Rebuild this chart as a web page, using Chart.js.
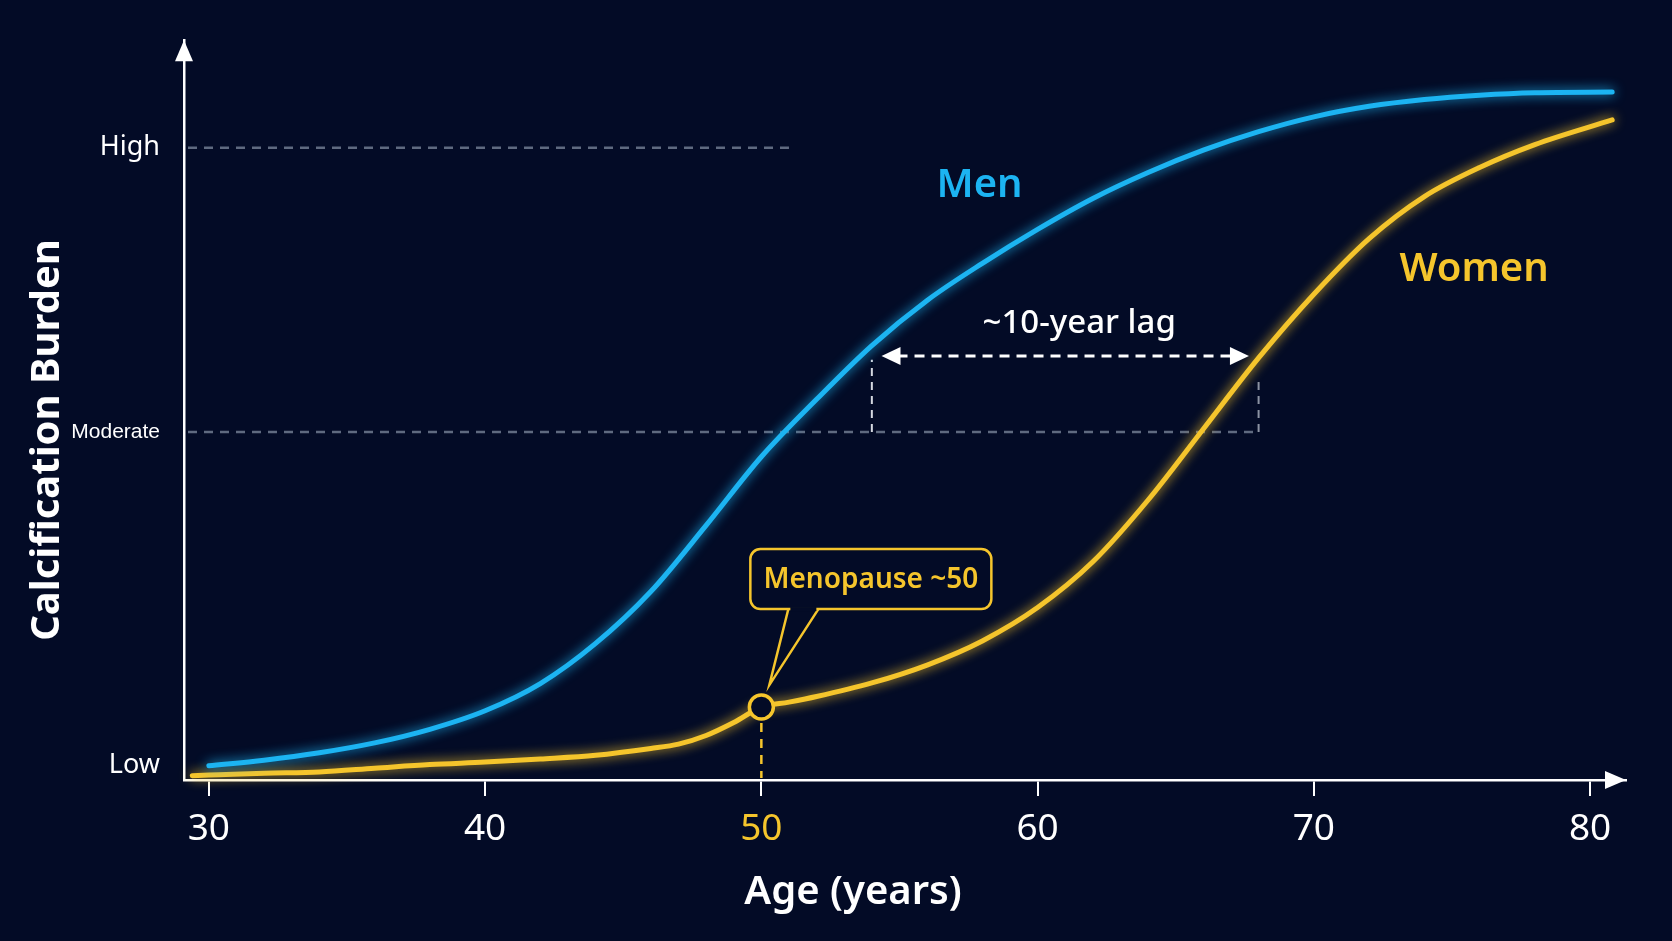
<!DOCTYPE html>
<html>
<head>
<meta charset="utf-8">
<script src="https://cdn.jsdelivr.net/npm/chart.js@4.4.1/dist/chart.umd.min.js"></script>
<style>
html, body { margin: 0; padding: 0; background: #030b26; }
#wrap { width: 1672px; height: 941px; position: relative; }
</style>
</head>
<body>
<div id="wrap"><canvas id="chart"></canvas></div>
<script>
'use strict';

//Data (burden: Low = 0, High = 100)
var menAges    = [30, 32, 34, 36, 38, 40, 42, 44, 46, 48, 50, 52, 54, 56, 58, 60, 62, 64, 66, 68, 70, 72, 74, 76, 78, 80.8];
var menBurden  = [0, 0.9, 2.1, 3.7, 5.9, 8.9, 13.3, 19.8, 28.2, 38.9, 50.0, 59.3, 68.0, 75.3, 81.3, 86.8, 91.8, 96.0, 99.6, 102.6, 105.0, 106.7, 107.8, 108.5, 108.9, 109.0];

var womenAges   = [29.4, 30, 32, 34, 36, 38, 40, 42, 44, 46, 47, 48, 49, 50, 51, 52, 54, 56, 58, 60, 62, 64, 66, 68, 70, 72, 74, 76, 78, 80.8];
var womenBurden = [-1.6, -1.5, -1.2, -1.0, -0.4, 0.2, 0.6, 1.1, 1.7, 2.8, 3.5, 4.9, 7.0, 9.5, 10.3, 11.2, 13.4, 16.3, 20.2, 25.6, 33.0, 43.0, 54.5, 66.0, 76.3, 85.3, 92.1, 96.8, 100.5, 104.5];

var menopauseAge    = [50];
var menopauseBurden = [9.5];

//Axes
var xTicks = [30, 40, 50, 60, 70, 80];
var yTicks = [0, 54, 100];
var yTickLabels = ['Low', 'Moderate', 'High'];

//Guides
var highGuideEnd = 51;          //age where the High dashed line stops
var moderateGuideEnd = 68;
var lagFromAge = 54, lagToAge = 68, lagLevel = 66.3;

var BG = '#030b26';
var BLUE = '#1cb4f2';
var GOLD = '#f5c52c';
var FONT = "'Noto Sans', 'Open Sans', sans-serif";

function toPoints(xs, ys){
    return xs.map(function(v, i){ return {x: v, y: ys[i]}; });
}

function dashLine(ctx, x1, y1, x2, y2, color, width, dash){
    ctx.save();
    ctx.strokeStyle = color;
    ctx.lineWidth = width;
    ctx.setLineDash(dash);
    ctx.beginPath();
    ctx.moveTo(x1, y1);
    ctx.lineTo(x2, y2);
    ctx.stroke();
    ctx.restore();
}

function triangle(ctx, p1, p2, p3, color){
    ctx.fillStyle = color;
    ctx.beginPath();
    ctx.moveTo(p1[0], p1[1]);
    ctx.lineTo(p2[0], p2[1]);
    ctx.lineTo(p3[0], p3[1]);
    ctx.closePath();
    ctx.fill();
}

function text(ctx, str, x, y, font, color){
    ctx.font = font;
    ctx.fillStyle = color;
    ctx.textAlign = 'center';
    ctx.textBaseline = 'middle';
    ctx.fillText(str, x, y);
}

var overlay = {
    id: 'overlay',

    beforeDatasetsDraw: function(chart){
        var ctx = chart.ctx, x = chart.scales.x, y = chart.scales.y, a = chart.chartArea;
        var grey = '#5f6a80';

        //level guides
        dashLine(ctx, a.left + 4, y.getPixelForValue(100), x.getPixelForValue(highGuideEnd), y.getPixelForValue(100), grey, 2.5, [9, 7]);
        dashLine(ctx, a.left + 4, y.getPixelForValue(54), x.getPixelForValue(moderateGuideEnd), y.getPixelForValue(54), grey, 2.5, [9, 7]);

        //lag verticals
        dashLine(ctx, x.getPixelForValue(lagFromAge), y.getPixelForValue(54), x.getPixelForValue(lagFromAge), y.getPixelForValue(lagLevel - 0.6), '#d4d8e0', 2, [8, 6]);
        dashLine(ctx, x.getPixelForValue(lagToAge), y.getPixelForValue(54), x.getPixelForValue(lagToAge), y.getPixelForValue(lagLevel - 3.3), '#8c93a3', 2, [8, 6]);

        //menopause drop line
        var mx = x.getPixelForValue(menopauseAge[0]);
        dashLine(ctx, mx, y.getPixelForValue(menopauseBurden[0]) + 16, mx, a.bottom - 2, GOLD, 2.5, [9, 7]);
    },

    beforeDatasetDraw: function(chart, args){
        var ds = chart.data.datasets[args.index];
        chart.ctx.save();
        if (ds.glow) {
            chart.ctx.shadowColor = ds.borderColor;
            chart.ctx.shadowBlur = 12;
        }
    },

    afterDatasetDraw: function(chart){
        chart.ctx.restore();
    },

    afterDraw: function(chart){
        var ctx = chart.ctx, x = chart.scales.x, y = chart.scales.y, a = chart.chartArea;
        ctx.save();

        //axis arrow heads
        triangle(ctx, [a.left, a.top], [a.left - 9, a.top + 21], [a.left + 9, a.top + 21], '#ffffff');
        triangle(ctx, [a.right, a.bottom], [a.right - 21, a.bottom - 9], [a.right - 21, a.bottom + 9], '#ffffff');

        //lag arrow
        var ly = y.getPixelForValue(lagLevel);
        var lx1 = x.getPixelForValue(lagFromAge + 0.35), lx2 = x.getPixelForValue(lagToAge - 0.35);
        dashLine(ctx, lx1 + 16, ly, lx2 - 16, ly, '#ffffff', 3, [10, 7]);
        triangle(ctx, [lx1, ly], [lx1 + 19, ly - 9], [lx1 + 19, ly + 9], '#ffffff');
        triangle(ctx, [lx2, ly], [lx2 - 19, ly - 9], [lx2 - 19, ly + 9], '#ffffff');
        text(ctx, '~10-year lag', (lx1 + lx2) / 2 + 14, ly - 32, '500 33px ' + FONT, '#ffffff');

        //series labels
        text(ctx, 'Men', x.getPixelForValue(57.9), y.getPixelForValue(93.8), '600 40px ' + FONT, BLUE);
        text(ctx, 'Women', x.getPixelForValue(75.8), y.getPixelForValue(80.3), '600 40px ' + FONT, GOLD);

        //menopause callout
        var mx = x.getPixelForValue(menopauseAge[0]), my = y.getPixelForValue(menopauseBurden[0]);
        var bx = mx - 11, by = my - 158, bw = 241, bh = 60;
        ctx.strokeStyle = GOLD;
        ctx.lineWidth = 2.5;
        ctx.fillStyle = BG;
        ctx.beginPath();
        ctx.roundRect(bx, by, bw, bh, 10);
        ctx.fill();
        ctx.stroke();
        ctx.beginPath();
        ctx.moveTo(mx + 27, by + bh);
        ctx.lineTo(mx + 8, my - 22);
        ctx.lineTo(mx + 57, by + bh);
        ctx.stroke();
        ctx.fillRect(mx + 29, by + bh - 2, 26, 4);
        text(ctx, 'Menopause ~50', bx + bw / 2, by + bh / 2 + 1, '600 28px ' + FONT, GOLD);

        //axis titles
        text(ctx, 'Age (years)', 853, 893, '600 40px ' + FONT, '#ffffff');
        ctx.translate(48, 440);
        ctx.rotate(-Math.PI / 2);
        text(ctx, 'Calcification Burden', 0, 0, 'bold 40px ' + FONT, '#ffffff');

        ctx.restore();
    }
};

var ctx = document.getElementById('chart').getContext('2d');

var config = {
    type: 'line',
    data: {
        datasets: [
            {
                label: 'Menopause',
                type: 'scatter',
                data: toPoints(menopauseAge, menopauseBurden),
                pointRadius: 12,
                pointBorderWidth: 3.5,
                pointBorderColor: GOLD,
                pointBackgroundColor: BG,
                order: 0
            },
            {
                label: 'Men',
                data: toPoints(menAges, menBurden),
                borderColor: BLUE,
                borderWidth: 5,
                borderCapStyle: 'round',
                pointRadius: 0,
                cubicInterpolationMode: 'monotone',
                glow: true,
                clip: false,
                order: 1
            },
            {
                label: 'Women',
                data: toPoints(womenAges, womenBurden),
                borderColor: GOLD,
                borderWidth: 5,
                borderCapStyle: 'round',
                pointRadius: 0,
                cubicInterpolationMode: 'monotone',
                glow: true,
                clip: false,
                order: 2
            }
        ]
    },
    options: {
        responsive: true,
        maintainAspectRatio: false,
        animation: false,
        layout: { padding: { top: 37, right: 46, left: 0, bottom: 0 } },
        plugins: { legend: { display: false }, tooltip: { enabled: false } },
        scales: {
            x: {
                type: 'linear',
                min: 29.1,
                max: 81.3,
                afterBuildTicks: function(scale){
                    scale.ticks = xTicks.map(function(v){ return {value: v}; });
                },
                afterFit: function(scale){ scale.height = 161; },
                border: { display: true, color: '#ffffff', width: 2.5 },
                grid: { drawOnChartArea: false, drawTicks: true, tickLength: 16, color: '#ffffff', lineWidth: 2 },
                ticks: {
                    padding: 11,
                    maxRotation: 0,
                    font: { family: FONT, size: 37 },
                    color: function(c){ return c.tick && c.tick.value === 50 ? GOLD : '#ffffff'; }
                }
            },
            y: {
                type: 'linear',
                min: -2.3,
                max: 117.4,
                afterBuildTicks: function(scale){
                    scale.ticks = yTicks.map(function(v){ return {value: v}; });
                },
                afterFit: function(scale){ scale.width = 184; },
                border: { display: true, color: '#ffffff', width: 2.5 },
                grid: { drawOnChartArea: false, drawTicks: false },
                ticks: {
                    padding: 24,
                    color: '#ffffff',
                    callback: function(v){ return yTickLabels[yTicks.indexOf(v)]; },
                    font: function(c){
                        if (c.tick && c.tick.value === 54) {
                            return { family: "'Liberation Sans', 'Noto Sans'", size: 21 };
                        }
                        return { family: FONT, size: 27 };
                    }
                }
            }
        }
    },
    plugins: [overlay]
};

window.myChart = new Chart(ctx, config);
</script>
</body>
</html>
